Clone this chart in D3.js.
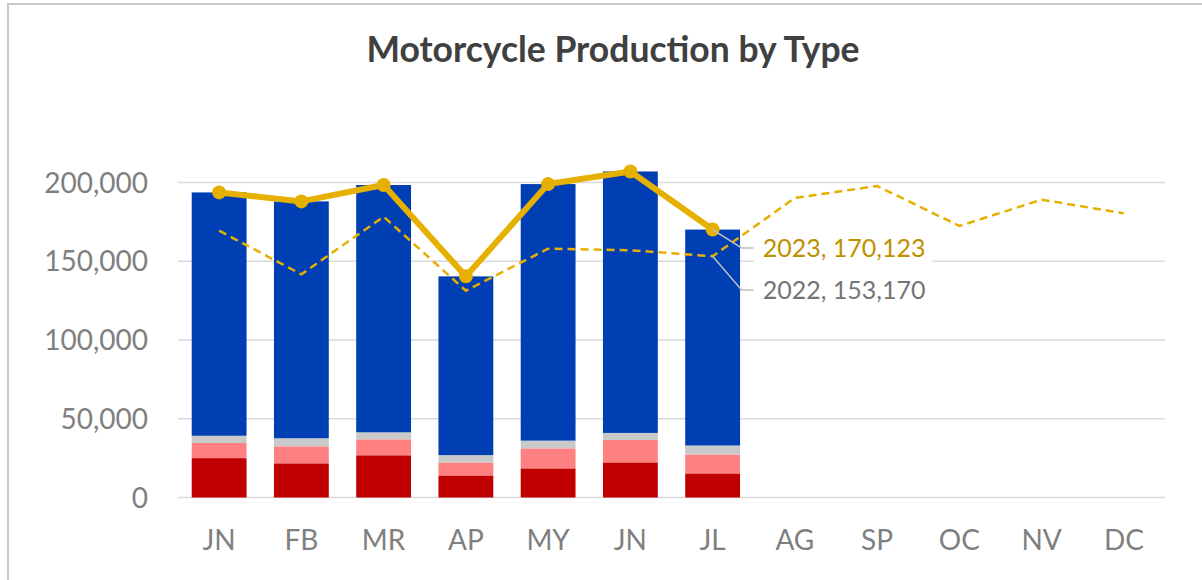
<!DOCTYPE html>
<html>
    <head>
        <title>Motorcycle Production by Type</title>
        <script src="https://d3js.org/d3.v7.min.js"></script>
        <style>
            * {
                font-family: 'Lato', sans-serif;
            }
            body {
                margin: 0;
                background: #ffffff;
                overflow: hidden;
            }
            svg {
                display: block;
            }
            .grid line {
                stroke: #d9d9d9;
                stroke-width: 1.5px;
            }
            .tick-label {
                fill: #7f7f7f;
                font-size: 28px;
            }
        </style>
    </head>
    <body>
        <script>
            // months as printed under the axis
            const months = ['JN', 'FB', 'MR', 'AP', 'MY', 'JN', 'JL', 'AG', 'SP', 'OC', 'NV', 'DC'];
            const yTicks = [0, 50000, 100000, 150000, 200000];

            // 2023 production by type (bottom to top of each stack)
            const typeNames = ['Type A', 'Type B', 'Type C', 'Type D'];
            const typeA = [25000, 21700, 26800, 14000, 18500, 22300, 15300];
            const typeB = [9600, 10800, 10100, 8200, 12700, 14200, 12000];
            const typeC = [4600, 5100, 4500, 4700, 4900, 4500, 5700];
            const typeD = [154500, 150400, 157000, 113500, 162900, 166000, 137123];
            const typeColors = ['#c00000', '#ff8080', '#c9c9c9', '#003eb4'];

            // totals
            const total2023 = [193700, 188000, 198400, 140400, 199000, 207000, 170123];
            const total2022 = [169400, 141700, 178300, 131300, 158000, 157000, 153170, 190200, 197800, 172400, 189100, 180400];

            const width = 1202;
            const height = 580;

            const svg = d3.select('body').append('svg').attr('width', width).attr('height', height);

            // chart frame (only top and left edges are visible in the crop)
            svg.append('rect')
                .attr('x', 8)
                .attr('y', 4)
                .attr('width', width + 20)
                .attr('height', height + 20)
                .attr('fill', 'none')
                .attr('stroke', '#c8c8c8')
                .attr('stroke-width', 2);

            svg.append('text')
                .attr('x', 613)
                .attr('y', 62)
                .attr('text-anchor', 'middle')
                .attr('fill', '#404040')
                .attr('font-size', 35.5)
                .attr('font-weight', 'bold')
                .text('Motorcycle Production by Type');

            const x = d3.scaleBand().domain(d3.range(months.length)).range([178, 1165]).paddingInner(1 / 3).paddingOuter(1 / 6);
            const y = d3.scaleLinear().domain([0, 200000]).range([497.5, 182.5]);

            // gridlines
            svg.append('g')
                .attr('class', 'grid')
                .selectAll('line')
                .data(yTicks)
                .join('line')
                .attr('x1', 178)
                .attr('x2', 1165)
                .attr('y1', (d) => y(d))
                .attr('y2', (d) => y(d));

            // y axis labels
            svg.append('g')
                .selectAll('text')
                .data(yTicks)
                .join('text')
                .attr('class', 'tick-label')
                .attr('x', 148)
                .attr('y', (d) => y(d))
                .attr('dy', '0.36em')
                .attr('text-anchor', 'end')
                .text((d) => d3.format(',')(d));

            // x axis labels
            svg.append('g')
                .selectAll('text')
                .data(months)
                .join('text')
                .attr('class', 'tick-label')
                .attr('x', (d, i) => x(i) + x.bandwidth() / 2)
                .attr('y', 550)
                .attr('text-anchor', 'middle')
                .text((d) => d);

            // stacked bars
            const rows = typeA.map((v, i) => ({ i, a: typeA[i], b: typeB[i], c: typeC[i], d: typeD[i] }));
            const stack = d3.stack().keys(['a', 'b', 'c', 'd'])(rows);

            svg.append('g')
                .selectAll('g')
                .data(stack)
                .join('g')
                .attr('fill', (d, k) => typeColors[k])
                .selectAll('rect')
                .data((d) => d)
                .join('rect')
                .attr('x', (d) => x(d.data.i))
                .attr('width', x.bandwidth())
                .attr('y', (d) => y(d[1]))
                .attr('height', (d) => y(d[0]) - y(d[1]));

            const cx = (i) => x(i) + x.bandwidth() / 2;

            // 2022 dashed line
            svg.append('path')
                .datum(total2022)
                .attr('fill', 'none')
                .attr('stroke', '#e6b000')
                .attr('stroke-width', 2.5)
                .attr('stroke-dasharray', '8,5')
                .attr('d', d3.line().x((d, i) => cx(i)).y((d) => y(d)));

            // 2023 solid line with markers
            svg.append('path')
                .datum(total2023)
                .attr('fill', 'none')
                .attr('stroke', '#e6b000')
                .attr('stroke-width', 6)
                .attr('stroke-linejoin', 'round')
                .attr('d', d3.line().x((d, i) => cx(i)).y((d) => y(d)));

            svg.append('g')
                .selectAll('circle')
                .data(total2023)
                .join('circle')
                .attr('cx', (d, i) => cx(i))
                .attr('cy', (d) => y(d))
                .attr('r', 7)
                .attr('fill', '#e6b000');

            // data labels at the last 2023 point
            const last = total2023.length - 1;
            const lx = cx(last);
            const labels = [
                { value: total2023[last], year: '2023', color: '#bf9000', ty: 248, bg: true },
                { value: total2022[last], year: '2022', color: '#757575', ty: 290, bg: false },
            ];

            labels.forEach((l) => {
                svg.append('polyline')
                    .attr('points', [[lx, y(l.value)], [lx + 29, l.ty], [lx + 41, l.ty]].join(' '))
                    .attr('fill', 'none')
                    .attr('stroke', '#bfbfbf')
                    .attr('stroke-width', 1.5);
                if (l.bg) {
                    svg.append('rect')
                        .attr('x', lx + 41)
                        .attr('y', l.ty - 17)
                        .attr('width', 179)
                        .attr('height', 34)
                        .attr('fill', '#ffffff');
                }
                svg.append('text')
                    .attr('x', lx + 50)
                    .attr('y', l.ty)
                    .attr('dy', '0.36em')
                    .attr('fill', l.color)
                    .attr('font-size', 25)
                    .text(`${l.year}, ${d3.format(',')(l.value)}`);
            });
        </script>
    </body>
</html>
